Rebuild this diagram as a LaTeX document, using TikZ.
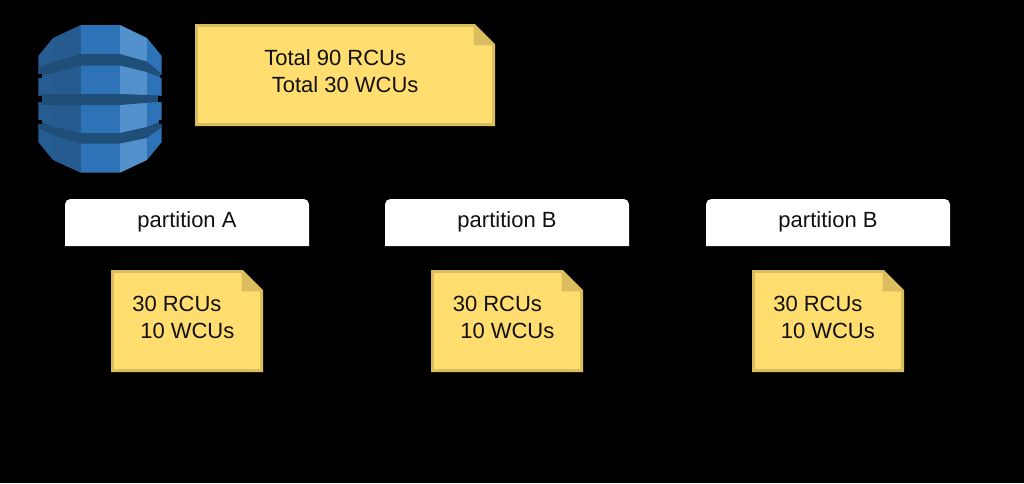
\documentclass[tikz,border=0pt]{standalone}
\usepackage{fontspec}
\setmainfont{Liberation Sans}
\usetikzlibrary{calc}
\definecolor{noteFill}{HTML}{FFDD6E}
\definecolor{noteEdge}{HTML}{D9BD5F}
\definecolor{dbMid}{HTML}{2E73B8}
\definecolor{dbDark}{HTML}{265B8F}
\definecolor{dbSide}{HTML}{265E94}
\definecolor{dbLight}{HTML}{5391CD}
\definecolor{dbBand}{HTML}{1F4E79}
\definecolor{labelInk}{HTML}{111111}
\tikzset{
	noteText/.style={text=labelInk, font=\fontsize{16.5}{20}\selectfont, anchor=base west, inner sep=0pt},
	partLabel/.style={text=labelInk, font=\fontsize{16.5}{20}\selectfont, anchor=base, inner sep=0pt}
}
\newcommand{\drawNote}[2]{
	\draw[noteEdge, line width=2.2pt, fill=noteFill, line join=miter] let
		\p1 = (#1), \p2 = (#2)
		in
		(\x1+1.1pt, \y1+1.1pt) -- (\x1+1.1pt, \y2-1.1pt) -- (\x2-15.5pt, \y2-1.1pt)
		-- (\x2-1.1pt, \y2-15.5pt) -- (\x2-1.1pt, \y1+1.1pt) -- cycle;
	\fill[noteEdge] let
		\p1 = (#1), \p2 = (#2)
		in
		(\x2-16pt, \y2) -- (\x2-16pt, \y2-16pt) -- (\x2, \y2-16pt) -- cycle;
}
\newcommand{\drawPart}[2]{
	\fill[white] let
		\p1 = (#1), \p2 = (#2)
		in
		(\x1, \y1) -- (\x1, \y2-4pt) arc[start angle=180, end angle=90, radius=4pt]
		-- (\x2-4pt, \y2) arc[start angle=90, end angle=0, radius=4pt] -- (\x2, \y1) -- cycle;
}
\begin{document}
\begin{tikzpicture}[x=0.75pt, y=-0.75pt]
	\useasboundingbox (0,0) rectangle (1024,483);
	\fill[black] (0,0) rectangle (1024,483);

	% database icon
	\begin{scope}
		\clip (38.3,56) -- (53,38) -- (80.7,25) -- (120,25) -- (147,38) -- (161.7,56) -- (161.7,142) -- (147,160) -- (120,172.7) -- (80.7,172.7) -- (53,160) -- (38.3,142) -- cycle;
		\fill[dbSide] (38,25) rectangle (53.3,173);
		\fill[dbDark] (53.3,25) rectangle (80.7,173);
		\fill[dbMid] (80.7,25) rectangle (120,173);
		\fill[dbLight] (120,25) rectangle (146.7,173);
		\fill[dbMid] (146.7,25) rectangle (162,173);
		\fill[dbBand] (38,68) -- (53.3,62) -- (80.7,54) -- (120,54) -- (146.7,61.5) -- (162,74) -- (162,78) -- (146.7,72) -- (120,65.5) -- (80.7,65.5) -- (53.3,73) -- (38,76) -- cycle;
		\fill[dbBand] (38,94) -- (120,94) -- (162,95.5) -- (162,101.5) -- (120,105) -- (38,105) -- cycle;
		\fill[dbBand] (38,120) -- (53.3,127) -- (80.7,133) -- (120,133) -- (146.7,127) -- (162,121) -- (162,127) -- (146.7,138) -- (120,143.5) -- (80.7,143.5) -- (53.3,135) -- (38,128) -- cycle;
	\end{scope}
	\fill[black] (38,74) rectangle (42,78);
	\fill[black] (160,75) rectangle (162,78);
	\fill[black] (38,96) rectangle (42,101.5);
	\fill[black] (158,96) rectangle (162,101.5);
	\fill[black] (38,120) rectangle (42,124);
	\fill[black] (159,120) rectangle (162,124);

	\coordinate (total_L) at (195,126);
	\coordinate (total_R) at (495,24);
	\coordinate (noteA_L) at (111,372);
	\coordinate (noteA_R) at (263,270);
	\coordinate (noteB_L) at (431,372);
	\coordinate (noteB_R) at (583,270);
	\coordinate (noteC_L) at (752,372);
	\coordinate (noteC_R) at (904,270);
	\coordinate (partA_L) at (65,246);
	\coordinate (partA_R) at (309,199);
	\coordinate (partB_L) at (385,246);
	\coordinate (partB_R) at (629,199);
	\coordinate (partC_L) at (706,246);
	\coordinate (partC_R) at (950,199);

	\drawNote{total_L}{total_R}
	\drawNote{noteA_L}{noteA_R}
	\drawNote{noteB_L}{noteB_R}
	\drawNote{noteC_L}{noteC_R}
	\drawPart{partA_L}{partA_R}
	\drawPart{partB_L}{partB_R}
	\drawPart{partC_L}{partC_R}

	\node[noteText] (totalRead) at (264,65) {Total 90 RCUs};
	\node[noteText] (totalWrite) at (271.5,92) {Total 30 WCUs};
	\node[partLabel] (partAText) at (187,227) {partition A};
	\node[partLabel] (partBText) at (507,227) {partition B};
	\node[partLabel] (partCText) at (828,227) {partition B};
	\node[noteText] (readA) at (132,311) {30 RCUs};
	\node[noteText] (writeA) at (140,338) {10 WCUs};
	\node[noteText] (readB) at (452.5,311) {30 RCUs};
	\node[noteText] (writeB) at (460,338) {10 WCUs};
	\node[noteText] (readC) at (773,311) {30 RCUs};
	\node[noteText] (writeC) at (780.5,338) {10 WCUs};
\end{tikzpicture}
\end{document}
